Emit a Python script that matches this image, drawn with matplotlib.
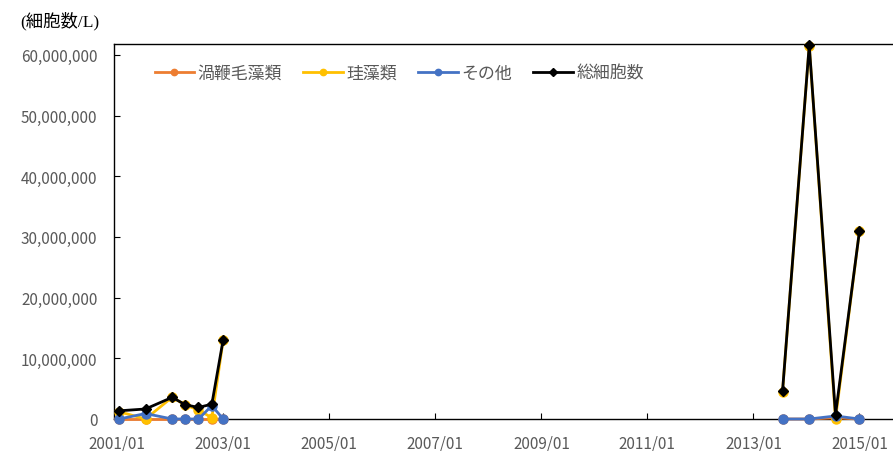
import numpy as np
import pandas as pd
import matplotlib
matplotlib.use("Agg")
import matplotlib.pyplot as plt
import matplotlib.dates as mdates
from matplotlib.ticker import FuncFormatter, MultipleLocator

plt.rcParams['font.family'] = ['Noto Sans CJK JP', 'DejaVu Sans']

# =========================
# DATA
# =========================
dates = pd.to_datetime([
    "2001-01-15", "2001-07-15", "2002-01-15", "2002-04-15", "2002-07-15",
    "2002-10-15", "2003-01-01",
    "2013-07-20", "2014-01-20", "2014-07-20", "2015-01-01",
])
dino = [0, 0, 0, 0, 0, 0, 0,
        0, 0, 200000, 0]
diatom = [1200000, 0, 3600000, 2300000, 1500000, 200000, 13000000,
          4500000, 61500000, 0, 31000000]
other = [0, 900000, 0, 0, 0, 2200000, 0,
         0, 0, 500000, 0]
total = [1350000, 1650000, 3570000, 2350000, 1900000, 2450000, 13070000,
         4560000, 61600000, 720000, 31000000]

labels = ["渦鞭毛藻類", "珪藻類", "その他", "総細胞数"]
colors = ["#ED7D31", "#FFC000", "#4472C4", "#000000"]
xtick_labels = ["2001/01", "2003/01", "2005/01", "2007/01",
                "2009/01", "2011/01", "2013/01", "2015/01"]

# =========================
# PLOT
# =========================
fig = plt.figure(figsize=(8.93, 4.52), dpi=100)
ax = fig.add_axes([114 / 893, 1 - 420 / 452, 1 - 114 / 893, (420 - 45) / 452])

# split into segments where there's a long gap
dnum = mdates.date2num(dates)
breaks = np.where(np.diff(dnum) > 365)[0] + 1
segs = np.split(np.arange(len(dates)), breaks)

series = [dino, diatom, other, total]
for k, (vals, lab, col) in enumerate(zip(series, labels, colors)):
    vals = np.array(vals, dtype=float)
    marker = "D" if k == 3 else "o"
    ms = 5.5 if k == 3 else 6.5
    for j, idx in enumerate(segs):
        ax.plot(dates[idx], vals[idx], color=col, lw=2, marker=marker, ms=ms,
                label=lab if j == 0 else None, zorder=3 + k, clip_on=False)

ax.set_ylim(0, 61800000)
ax.set_xlim(pd.Timestamp("2000-12-10"), pd.Timestamp("2015-08-20"))
ax.yaxis.set_major_locator(MultipleLocator(10000000))
ax.yaxis.set_major_formatter(FuncFormatter(lambda v, p: f"{int(v):,}"))
tick_dates = pd.to_datetime([t.replace("/", "-") + "-01" for t in xtick_labels])
ax.set_xticks(tick_dates)
ax.set_xticklabels(xtick_labels)

ax.tick_params(axis="both", direction="in", length=4, colors="#000000",
               labelcolor="#595959", labelsize=11)
ax.tick_params(axis="x", pad=11)
ax.tick_params(axis="y", pad=12)
for s in ["left", "bottom", "top"]:
    ax.spines[s].set_color("#000000")
    ax.spines[s].set_linewidth(1)
ax.spines["right"].set_visible(False)

leg = ax.legend(loc="center left", bbox_to_anchor=(0.052, 0.923), ncol=4,
                frameon=False, fontsize=12.2, handlelength=2.35,
                columnspacing=1.25, handletextpad=0.2, markerscale=0.7,
                borderaxespad=0, borderpad=0)
for t in leg.get_texts():
    t.set_color("#595959")

fig.text(20 / 893, 1 - 21 / 452, "(細胞数/L)", fontsize=12.5, color="#000000",
         va="center", ha="left", family=["Liberation Serif", "Noto Sans CJK JP"])

fig.savefig("out.png", dpi=100)
